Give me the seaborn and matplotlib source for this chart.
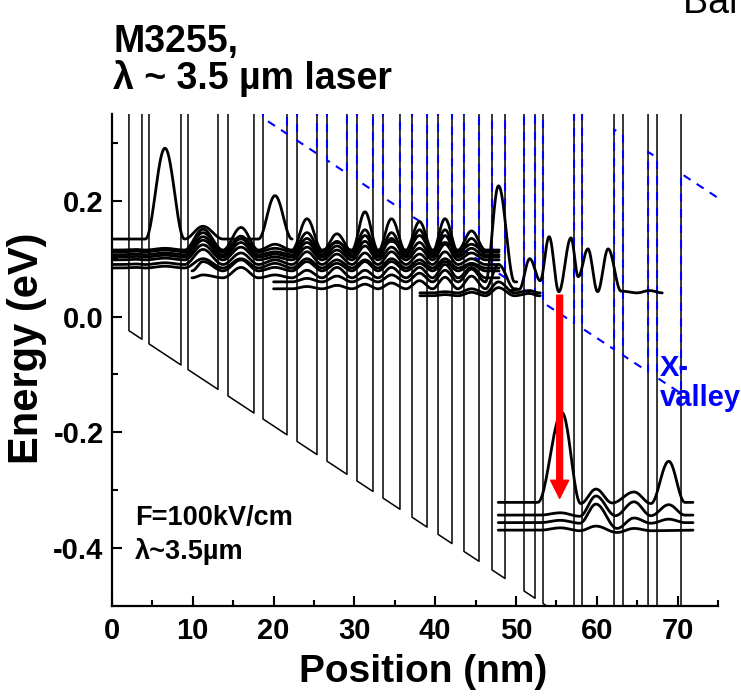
import numpy as np
import matplotlib
matplotlib.use("Agg")
import matplotlib.pyplot as plt
import seaborn as sns

# ---------------- structure (one period, thicknesses in nm) ----------------
layer_edges = [0.00, 2.10, 3.71, 4.58, 8.54, 9.41, 13.12, 14.36, 17.57, 18.69,
               21.66, 22.90, 25.37, 26.61, 29.08, 30.32, 32.30, 33.54, 35.64,
               37.13, 38.99, 40.35, 42.08, 43.56, 45.42, 47.03, 48.64, 50.99,
               52.35, 53.34, 57.18, 58.17, 62.13, 63.24, 66.34, 67.45, 70.42, 75.0]
layer_types = ["b", "w"] * 18 + ["b"]          # barrier / well, alternating

band_edge_at_zero = -0.005     # Gamma well bottom at x = 0 (eV)
band_slope = 0.0092            # potential drop per nm under bias (eV/nm)
gamma_barrier = 1.20           # Gamma barrier height above well bottom (eV)
x_in_well = 0.52               # X-valley in the wells, above Gamma well bottom (eV)
x_in_barrier = 0.90            # X-valley in the barriers (eV)

# ---------------- injector / upper states: level, extent, peak per well ----------------
inj_levels = [0.134, 0.115, 0.112, 0.107, 0.103, 0.098, 0.090, 0.084,
              0.079, 0.067, 0.060, 0.048, 0.041, 0.036]
inj_start = [0.0, 0.0, 0.0, 0.0, 0.0, 0.0, 0.0, 0.0, 9.9, 9.9, 20.0, 20.0, 38.1, 38.1]
inj_end = [22.3, 47.9, 47.9, 47.9, 47.9, 47.9, 47.9, 47.9, 47.9, 47.9, 50.1, 50.1, 53.0, 53.0]
N = None
# peak energy reached in wells 1..14 (None: no visible bump)
inj_peaks = [
    [N, 0.291, 0.156, N, 0.209, N, N, N, N, N, N, N, N, N],
    [0.116, 0.118, 0.151, 0.154, 0.125, 0.169, 0.128, 0.181, 0.130, 0.164, 0.128, 0.148, N, N],
    [0.113, 0.115, 0.145, 0.139, 0.118, 0.145, 0.143, 0.150, 0.169, 0.140, 0.169, 0.125, N, N],
    [0.108, 0.110, 0.138, 0.135, 0.112, 0.135, 0.130, 0.140, 0.145, 0.150, 0.150, 0.135, N, N],
    [0.104, 0.106, 0.132, 0.128, 0.108, 0.128, 0.122, 0.130, 0.135, 0.128, 0.140, 0.118, N, N],
    [0.099, 0.101, 0.124, 0.120, 0.103, 0.120, 0.115, 0.122, 0.120, 0.118, 0.125, 0.110, N, N],
    [0.091, 0.093, 0.116, 0.110, 0.098, 0.112, 0.108, 0.110, 0.112, 0.108, 0.112, 0.100, N, N],
    [0.085, 0.087, 0.100, 0.100, 0.092, 0.100, 0.098, 0.098, 0.100, 0.098, 0.100, 0.092, N, N],
    [N, N, 0.095, 0.098, 0.085, 0.095, 0.092, 0.095, 0.095, 0.092, 0.095, 0.090, N, N],
    [N, N, 0.072, 0.085, 0.072, 0.080, 0.085, 0.080, 0.085, 0.085, 0.090, 0.085, N, N],
    [N, N, N, N, N, 0.066, 0.070, 0.068, 0.072, 0.075, 0.080, 0.082, 0.226, N],
    [N, N, N, N, N, 0.052, 0.054, 0.056, 0.058, 0.062, 0.068, 0.070, 0.090, N],
    [N, N, N, N, N, N, N, N, N, N, 0.043, 0.048, 0.060, 0.045],
    [N, N, N, N, N, N, N, N, N, N, 0.038, 0.042, 0.050, 0.040],
]

# ---------------- upper laser state (position nm, energy eV) ----------------
ul_x = [49.3, 50.4, 51.7, 53.0, 54.1, 55.3, 56.8, 57.7, 58.9, 60.1, 61.4, 63.0, 65.0, 66.5, 68.1]
ul_e = [0.045, 0.047, 0.100, 0.062, 0.138, 0.043, 0.136, 0.069, 0.117, 0.043, 0.117, 0.044, 0.041, 0.045, 0.041]

# ---------------- lower laser states ----------------
ll1_x = [47.8, 52.7, 55.7, 58.0, 59.9, 61.9, 64.6, 66.7, 68.9, 70.9, 71.9]
ll1_e = [-0.321, -0.321, -0.166, -0.323, -0.298, -0.322, -0.303, -0.323, -0.250, -0.321, -0.321]
ll2_x = [47.8, 53.0, 55.5, 57.9, 59.9, 62.3, 64.6, 66.7, 68.9, 70.9, 71.9]
ll2_e = [-0.343, -0.343, -0.339, -0.345, -0.310, -0.344, -0.320, -0.344, -0.325, -0.343, -0.343]
ll3_x = [47.8, 53.0, 55.5, 57.9, 59.9, 62.5, 64.6, 66.7, 68.9, 70.9, 71.9]
ll3_e = [-0.356, -0.356, -0.352, -0.357, -0.324, -0.366, -0.348, -0.357, -0.350, -0.356, -0.356]
ll4_x = [47.8, 53.0, 55.5, 57.9, 59.9, 62.5, 64.6, 66.7, 71.9]
ll4_e = [-0.369, -0.369, -0.365, -0.370, -0.362, -0.373, -0.366, -0.370, -0.369]

# laser transition
arrow_x = 55.4
arrow_from = 0.037
arrow_to = -0.314

x_ticks = [0, 10, 20, 30, 40, 50, 60, 70]
y_ticks = [-0.4, -0.2, 0.0, 0.2]
y_tick_labels = ["-0.4", "-0.2", "0.0", "0.2"]

# ---------------- helpers ----------------
def band_line(x):
    return band_edge_at_zero - band_slope * np.asarray(x)


def profile(edges, types, well_off, barrier_off):
    xs, ys = [], []
    for a, b, t in zip(edges[:-1], edges[1:], types):
        off = barrier_off if t == "b" else well_off
        xs += [a, b]
        ys += [float(band_line(a)) + off, float(band_line(b)) + off]
    return np.array(xs), np.array(ys)


def smooth(xk, yk, n=24):
    """Smooth curve through knots (zero slope at every knot)."""
    xs, ys = [], []
    for i in range(len(xk) - 1):
        t = np.linspace(0.0, 1.0, n, endpoint=False)
        w = 0.5 - 0.5 * np.cos(np.pi * t)
        xs.append(xk[i] + (xk[i + 1] - xk[i]) * t)
        ys.append(yk[i] + (yk[i + 1] - yk[i]) * w)
    xs.append([xk[-1]])
    ys.append([yk[-1]])
    return np.concatenate(xs), np.concatenate(ys)


edges = np.array(layer_edges)
mids = 0.5 * (edges[:-1] + edges[1:])
well_mid = [m for m, t in zip(mids, layer_types) if t == "w"]
barrier_mid = [m for m, t in zip(mids, layer_types) if t == "b"]


def injector_knots(level, x0, x1, peaks):
    xk, yk = [x0], [level]
    for k, p in enumerate(peaks):
        if p is None:
            continue
        if barrier_mid[k] > xk[-1]:
            xk.append(barrier_mid[k]); yk.append(level)
        xk.append(well_mid[k]); yk.append(p)
        xk.append(barrier_mid[k + 1]); yk.append(level)
    if x1 > xk[-1]:
        xk.append(x1); yk.append(level)
    else:
        xk[-1] = x1
    return xk, yk


# ---------------- figure ----------------
sns.set_theme(style="ticks")
plt.rcParams["font.family"] = ["Liberation Sans", "DejaVu Sans"]
plt.rcParams["font.weight"] = "bold"
plt.rcParams["axes.unicode_minus"] = False
for key in ["text.color", "axes.labelcolor", "xtick.color", "ytick.color",
            "xtick.labelcolor", "ytick.labelcolor", "axes.edgecolor"]:
    plt.rcParams[key] = "black"

fig = plt.figure(figsize=(7.41, 6.97), dpi=100)
ax = fig.add_axes([0.1511, 0.1306, 0.8179, 0.7058])

line_kw = dict(ax=ax, estimator=None, sort=False, legend=False)

# Gamma conduction band
gx, gy = profile(edges, layer_types, 0.0, gamma_barrier)
sns.lineplot(x=gx, y=gy, color="black", linewidth=1.1, **line_kw)

# X valley
xx, xy = profile(edges, layer_types, x_in_well, x_in_barrier)
sns.lineplot(x=xx, y=xy, color="#0000FF", linewidth=1.5,
             linestyle=(0, (4, 3.5)), **line_kw)

wf_kw = dict(color="black", linewidth=2.0, **line_kw)
for lev, x0, x1, pk in zip(inj_levels, inj_start, inj_end, inj_peaks):
    kx, ky = injector_knots(lev, x0, x1, pk)
    sx, sy = smooth(kx, ky)
    sns.lineplot(x=sx, y=sy, **wf_kw)

for kx, ky in [(ul_x, ul_e), (ll1_x, ll1_e), (ll2_x, ll2_e), (ll3_x, ll3_e), (ll4_x, ll4_e)]:
    sx, sy = smooth(kx, ky)
    sns.lineplot(x=sx, y=sy, **wf_kw)

ax.annotate("", xy=(arrow_x, arrow_to), xytext=(arrow_x, arrow_from),
            arrowprops=dict(width=4.2, headwidth=13, headlength=13,
                            facecolor="#FF0000", edgecolor="#FF0000", shrink=0.0),
            zorder=10)

# axes styling
ax.set_xlim(0, 75)
ax.set_ylim(-0.5, 0.35)
for s in ["top", "right"]:
    ax.spines[s].set_visible(False)
for s in ["left", "bottom"]:
    ax.spines[s].set_linewidth(1.6)
    ax.spines[s].set_color("black")
ax.set_xticks(x_ticks)
ax.set_xticklabels([str(v) for v in x_ticks])
ax.set_xticks(np.arange(5, 76, 10), minor=True)
ax.set_yticks(y_ticks)
ax.set_yticklabels(y_tick_labels)
ax.set_yticks([-0.3, -0.1, 0.1, 0.3], minor=True)
ax.tick_params(which="both", direction="in", width=1.5, color="black",
               labelcolor="black", labelsize=21)
ax.tick_params(axis="x", pad=8)
ax.tick_params(axis="y", pad=6)
ax.tick_params(which="major", length=7)
ax.tick_params(which="minor", length=4)
for lab in ax.get_xticklabels() + ax.get_yticklabels():
    lab.set_fontweight("bold")

ax.set_xlabel("Position (nm)", fontsize=28, fontweight="bold", color="black")
ax.set_ylabel("Energy (eV)", fontsize=30, fontweight="bold", color="black")
ax.xaxis.set_label_coords(0.513, -0.097)
ax.yaxis.set_label_coords(-0.107, 0.523)

ax.text(2.85, -0.360, "F=100kV/cm", fontsize=19.5, fontweight="bold", color="black")
ax.text(2.85, -0.419, "λ~3.5µm", fontsize=19.5, fontweight="bold", color="black")
ax.text(67.8, -0.103, "X-", fontsize=21, fontweight="bold", color="#0000FF")
ax.text(67.8, -0.155, "valley", fontsize=21, fontweight="bold", color="#0000FF")

fig.text(113 / 741, 0.925, "M3255,", fontsize=27, fontweight="bold", color="black")
fig.text(113 / 741, 0.872, "λ ~ 3.5 µm laser", fontsize=27, fontweight="bold", color="black")
fig.text(683 / 741, 1 - 13 / 697, "Band diagram", fontsize=27, fontweight="normal",
         color="black")

fig.savefig("out.png", dpi=100)
